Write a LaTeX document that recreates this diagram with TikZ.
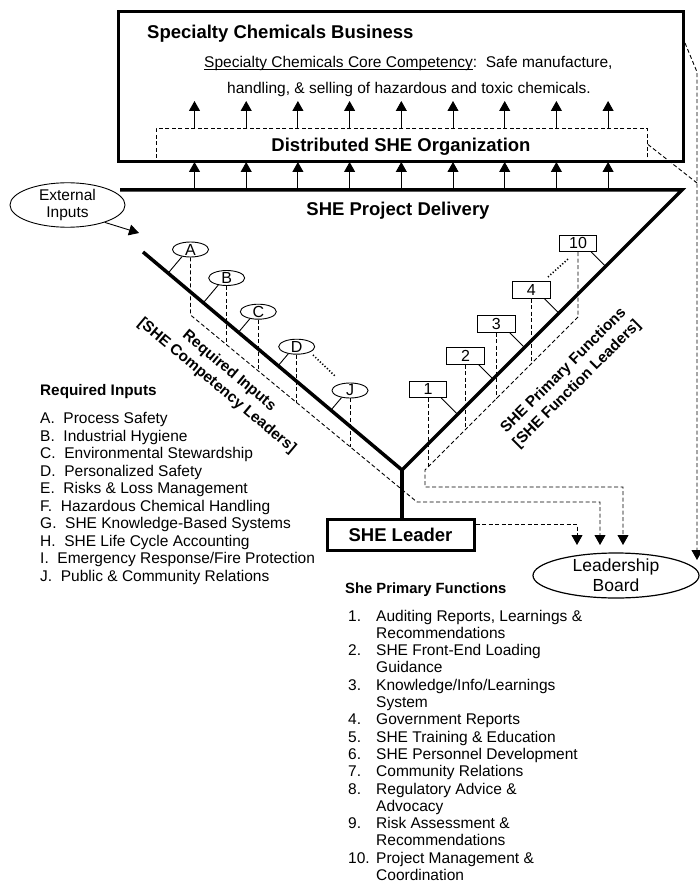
\documentclass[tikz,border=0pt]{standalone}
\usepackage{fontspec}
\setmainfont{Liberation Sans}
\usetikzlibrary{arrows.meta,shapes.geometric,calc}
\begin{document}
\begin{tikzpicture}[x=1pt,y=-1pt,
  txt/.style={inner sep=0pt},
  bigbold/.style={font=\bfseries\fontsize{18.5}{22}\selectfont},
  midbold/.style={font=\bfseries\fontsize{15.3}{19}\selectfont},
  listbody/.style={font=\fontsize{15.5}{17.5}\selectfont},
  funcbody/.style={font=\fontsize{15.5}{17.3}\selectfont},
  tagtext/.style={font=\fontsize{16}{18}\selectfont, inner xsep=0pt, inner ysep=-3pt},
  boxframe/.style={draw, line width=3pt, inner sep=0pt},
  heavyline/.style={line width=3.5pt},
  thinline/.style={line width=0.9pt},
  dashline/.style={line width=0.9pt, dash pattern=on 4pt off 2.5pt},
  dotline/.style={line width=1.6pt, dash pattern=on 1.2pt off 2pt},
  headup/.style={-{Triangle[width=11pt,length=10pt]}},
  oval/.style={draw, ellipse, line width=0.9pt},
  fnbox/.style={draw, line width=0.9pt, minimum width=37.5, minimum height=16.5},
]
\useasboundingbox (0,0) rectangle (699,885);

% ---------- business box with the distributed organisation ----------
\node[draw, dashline, minimum width=491, minimum height=32, anchor=north west, inner sep=0pt] (org) at (156,128) {};
\node[boxframe, minimum width=565, minimum height=150, anchor=north west] (biz) at (117,10) {};

\node[txt, bigbold, anchor=west] (bizt) at (147,34) {Specialty Chemicals Business};
\node[txt, anchor=base west, font=\fontsize{15.5}{18}\selectfont] (core1) at (204,67.5)
  {\underline{\raisebox{0pt}[\height][0pt]{Specialty Chemicals Core Competency}}:\ \ Safe manufacture,};
\node[txt, anchor=base west, font=\fontsize{15.5}{18}\selectfont] (core2) at (227,93.5)
  {handling, \& selling of hazardous and toxic chemicals.};
\node[txt, bigbold] (orgt) at (401,147) {Distributed SHE Organization};

% ---------- V shaped delivery frame ----------
\coordinate (vtl) at (120,190);
\coordinate (vtr) at (682,190);
\coordinate (vb)  at (402,470);
\coordinate (la)  at (143,252);
\draw[heavyline, line join=miter] (vtl) -- (vtr) -- (vb) -- (la);

% upward arrows
\foreach \i in {0,...,8} {
  \coordinate (u\i) at ({194.5+51.7*\i},101);
  \coordinate (w\i) at ({194.5+51.7*\i},162);
  \draw[thinline, headup] (u\i |- org.north) -- (u\i);
  \draw[thinline, headup] (w\i |- vtl) -- (w\i);
}

\node[txt, bigbold] (pdel) at (398,211) {SHE Project Delivery};

% external inputs
\node[oval, align=center, font=\fontsize{15.5}{17}\selectfont, minimum width=115, minimum height=44, inner sep=0pt] (ext) at (67.5,205) {External\\Inputs};
\coordinate (extin) at (139,233);
\draw[thinline, headup] (ext.-25) -- (extin);

% ---------- required inputs (left arm) ----------
\node[oval, tagtext, minimum width=36, minimum height=15] (iA) at (190.5,249.5) {A};
\node[oval, tagtext, minimum width=36, minimum height=15] (iB) at (226.7,278) {B};
\node[oval, tagtext, minimum width=36, minimum height=15] (iC) at (258.3,311.7) {C};
\node[oval, tagtext, minimum width=36, minimum height=15] (iD) at (296.7,346.7) {D};
\node[oval, tagtext, minimum width=36, minimum height=15] (iJ) at (350,390.5) {J};

\foreach \n in {A,B,C,D,J} {
  \draw[thinline] (i\n.-140) -- ($(la)!(i\n.-140)!(vb)$);
}

% dashed collector running parallel to the left arm
\coordinate (ld1) at (190.5,315);
\coordinate (ld2) at (417,502);
\coordinate (ld3) at (600,502);
\coordinate (bt2) at (600,545);
\draw[dashline, headup] (iA.south) -- (ld1) -- (ld2) -- (ld3) -- (bt2);
\foreach \n/\x in {B/226.7,C/258.3,D/296.7,J/350} {
  \coordinate (dn\n) at (\x,{315+(\x-190.5)*0.8256});
  \draw[dashline] (i\n.south) -- (dn\n);
}

\coordinate (dl1) at (313,355);
\coordinate (dl2) at (335,376);
\draw[dotline] (dl1) -- (dl2);

\node[txt, midbold, align=center, rotate=-40] (rlab) at (223,378.5)
  {Required Inputs\\{}[SHE Competency Leaders]};

% ---------- primary functions (right arm) ----------
\node[fnbox, tagtext] (f1)  at (428,389.2) {1};
\node[fnbox, tagtext] (f2)  at (465.5,356) {2};
\node[fnbox, tagtext] (f3)  at (496.3,323.8) {3};
\node[fnbox, tagtext] (f4)  at (531.3,290) {4};
\node[fnbox, tagtext] (f10) at (578,243.3) {10};

\foreach \n in {1,2,3,4,10} {
  \coordinate (fs\n) at ($(f\n.south east)+(-6,0)$);
  \draw[thinline] (fs\n) -- ($(vb)!(fs\n)!(vtr)$);
}

% dashed collector running parallel to the right arm
\coordinate (rd1) at (578,317);
\coordinate (rd2) at (425,470);
\coordinate (rd3) at (425,487);
\coordinate (rd4) at (623,487);
\coordinate (bt3) at (623,545);
\draw[dashline, headup] (f10.south) -- (rd1) -- (rd2) -- (rd3) -- (rd4) -- (bt3);
\foreach \n/\x in {1/428,2/465.5,3/496.3,4/531.3} {
  \coordinate (fd\n) at (\x,{895-\x});
  \draw[dashline] (f\n.south) -- (fd\n);
}

\coordinate (dr1) at (548,277);
\coordinate (dr2) at (568,259);
\draw[dotline] (dr1) -- (dr2);

\node[txt, midbold, align=center, rotate=45] (flab) at (570.5,377.5)
  {SHE Primary Functions\\{}[SHE Function Leaders]};

% ---------- leader and board ----------
\node[boxframe, bigbold, minimum width=147, minimum height=31] (leader) at (400.5,534.5) {SHE Leader};
\draw[heavyline] (vb) -- (vb |- leader.north);

\coordinate (bt1) at (577,545);
\coordinate (lq) at (577,524);
\draw[dashline, headup] (leader.east |- lq) -- (lq) -- (bt1);

\node[oval, line width=1.2pt, align=center, font=\fontsize{17.5}{20}\selectfont, minimum width=166, minimum height=45, inner xsep=0pt, inner ysep=-5pt] (board) at (616,575.5) {Leadership\\Board};

\coordinate (rt1) at ($(biz.north east)+(0,33)$);
\coordinate (rt2) at (697,72);
\coordinate (rt3) at (697,560);
\coordinate (ro2) at (697,183);
\draw[dashline, headup] (rt1) -- (rt2) -- (rt3);
\draw[dashline] (org.east) -- (ro2);

% ---------- legends ----------
\node[txt, midbold, anchor=west] (rih) at (40,392) {Required Inputs};
\foreach \t [count=\i from 0] in {A.\ \ Process Safety, B.\ \ Industrial Hygiene,
    C.\ \ Environmental Stewardship, D.\ \ Personalized Safety,
    E.\ \ Risks \& Loss Management, F.\ \ Hazardous Chemical Handling,
    G.\ \ SHE Knowledge-Based Systems, H.\ \ SHE Life Cycle Accounting,
    I.\ \ Emergency Response/Fire Protection, J.\ \ Public \& Community Relations} {
  \node[txt, listbody, anchor=base west] (ri\i) at (40,{423.5+17.5*\i}) {\t};
}

\node[txt, font=\bfseries\fontsize{14.8}{18}\selectfont, anchor=west] (pfh) at (345,590) {She Primary Functions};
\foreach \k/\num in {0/1,2/2,4/3,6/4,7/5,8/6,9/7,10/8,12/9,14/10} {
  \node[txt, funcbody, anchor=base west] (pn\num) at (348,{621+17.3*\k}) {\num.};
}
\foreach \t [count=\k from 0] in {{Auditing Reports, Learnings \&}, Recommendations,
    SHE Front-End Loading, Guidance, Knowledge/Info/Learnings, System,
    Government Reports, SHE Training \& Education, SHE Personnel Development,
    Community Relations, Regulatory Advice \&, Advocacy, Risk Assessment \&,
    Recommendations, Project Management \&, Coordination} {
  \node[txt, funcbody, anchor=base west] (pt\k) at (376,{621+17.3*\k}) {\t};
}
\end{tikzpicture}
\end{document}
